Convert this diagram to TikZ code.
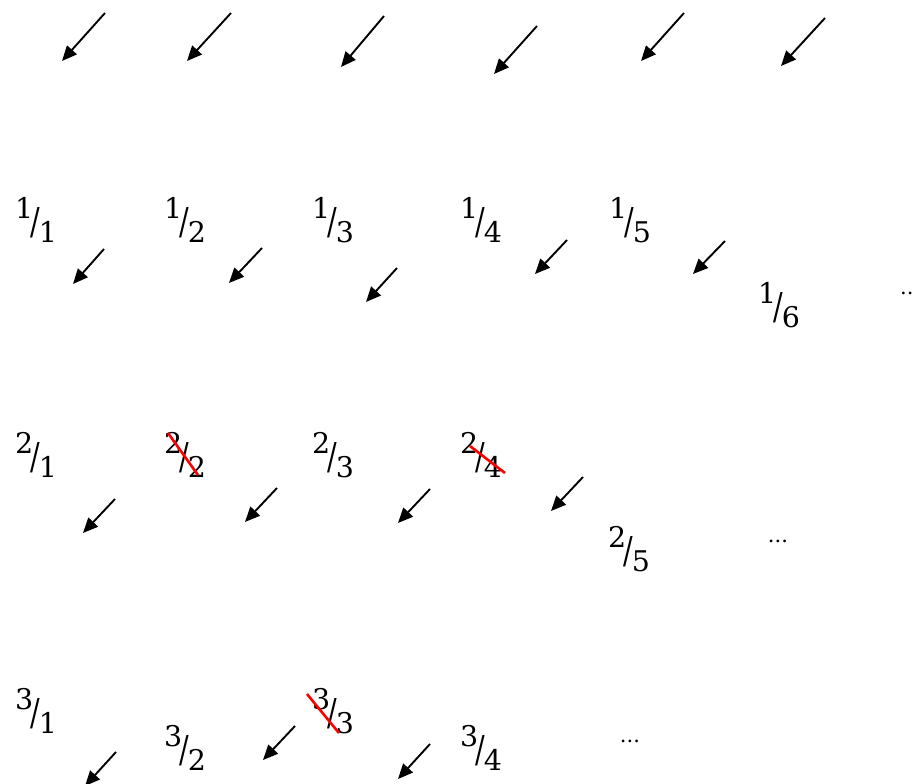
\documentclass[tikz,border=0pt]{standalone}
\usepackage{fontspec}
\usepackage{graphicx}
\setmainfont{DejaVu Serif}
\usetikzlibrary{arrows.meta}
\newcommand{\fr}[2]{\raisebox{11.5pt}{#1}\kern-2.5pt\raisebox{-4pt}{\scalebox{1}[1.3]{/}}\kern-1.5pt\raisebox{-12.5pt}{#2}}
\begin{document}
\begin{tikzpicture}[x=1pt,y=-1pt,
  frac/.style={inner sep=0pt, anchor=base, font=\fontsize{28.5}{32}\selectfont},
  dots/.style={inner sep=0pt, anchor=base, font=\fontsize{21}{24}\selectfont},
  arr/.style={-{Triangle[length=15pt,width=13pt]}, line width=1.9pt},
  strike/.style={red, line width=2.6pt}]
\useasboundingbox (0,0) rectangle (913,784);
% fractions (anchored at the slash baseline)
\node[frac] (f11) at (36,230) {\fr{1}{1}};
\node[frac] (f12) at (185,230) {\fr{1}{2}};
\node[frac] (f13) at (333,230) {\fr{1}{3}};
\node[frac] (f14) at (481,230) {\fr{1}{4}};
\node[frac] (f15) at (630,230) {\fr{1}{5}};
\node[frac] (f16) at (779,315) {\fr{1}{6}};
\node[dots,anchor=base west] (d1) at (900,294) {...};
\node[frac] (f21) at (36,465) {\fr{2}{1}};
\node[frac] (f22) at (185,465) {\fr{2}{2}};
\node[frac] (f23) at (333,465) {\fr{2}{3}};
\node[frac] (f24) at (481,465) {\fr{2}{4}};
\node[frac] (f25) at (629,559) {\fr{2}{5}};
\node[dots] (d2) at (778,542) {...};
\node[frac] (f31) at (36,721) {\fr{3}{1}};
\node[frac] (f32) at (185,758) {\fr{3}{2}};
\node[frac] (f33) at (333,721) {\fr{3}{3}};
\node[frac] (f34) at (481,758) {\fr{3}{4}};
\node[dots] (d3) at (630,742) {...};
% strike-throughs (offsets from the slash baseline)
\draw[strike] ([shift={(-17,-32)}]f22.base) -- ([shift={(13,10)}]f22.base);
\draw[strike] ([shift={(-11,-19)}]f24.base) -- ([shift={(24,8)}]f24.base);
\draw[strike] ([shift={(-26,-27)}]f33.base) -- ([shift={(6,12)}]f33.base);
% arrows
\foreach \n/\sx/\sy/\ex/\ey in {
  t1/105/13/62/61, t2/231/13/187/61, t3/384/16/341/67,
  t4/537/26/494/74, t5/684/13/641/61, t6/825/18/781/66,
  a1/104/249/73/284, a2/262/248/229/283, a3/397/268/366/302,
  a4/567/240/535/274, a5/725/241/693/274,
  b1/115/499/83/533, b2/277/488/245/522, b3/430/489/398/523, b4/583/477/551/511,
  c1/116/752/85/786, c2/295/726/263/760, c3/430/744/398/779}{
  \coordinate (\n s) at (\sx,\sy);
  \coordinate (\n e) at (\ex,\ey);
  \draw[arr] (\n s) -- (\n e);
}
\end{tikzpicture}
\end{document}
